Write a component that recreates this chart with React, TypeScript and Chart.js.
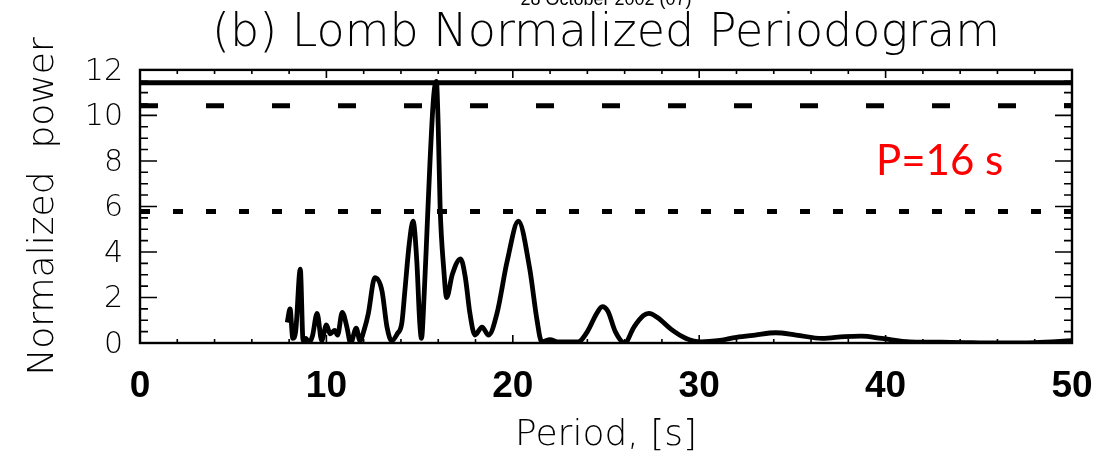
import React, { useEffect, useRef } from 'react';
import { Chart, registerables } from 'chart.js';

Chart.register(...registerables);

// ---- Data ----
const periods = [
  7.9, 8.05, 8.2, 8.35, 8.6, 8.75, 8.9, 9.05, 9.25, 9.5, 9.75, 10.0, 10.2, 10.45, 10.6, 10.85, 11.1, 11.3,
  11.6, 11.8, 12.05, 12.25, 12.6, 12.98, 13.25, 13.5, 13.8, 14.05, 14.2, 14.45, 14.65, 14.85, 15.0, 15.1,
  15.25, 15.4, 15.56, 15.75, 15.9, 16.0, 16.1, 16.3, 16.45, 16.75, 17.2, 17.45, 17.7, 17.97, 18.35, 18.7,
  19.15, 19.7, 20.3, 20.9, 21.3, 21.55, 22.0, 22.4, 23.5, 24.0, 24.5, 24.8, 25.1, 25.5, 26.0, 26.5, 27.0,
  27.3, 27.8, 28.5, 29.3, 30.1, 31.0, 32.0, 33.0, 34.1, 35.2, 36.6, 37.8, 38.7, 39.8, 41.3, 43.5, 46.0,
  48.0, 50.0,
];
const powers = [
  0.9, 1.5, 0.2, 0.5, 3.25, 0.1, 0.2, 0.0, 0.3, 1.3, 0.1, 0.8, 0.4, 0.55, 0.35, 1.35, 0.7, 0.0,
  0.65, 0.1, 0.65, 1.3, 2.87, 2.3, 0.7, 0.1, 0.4, 0.9, 2.2, 4.4, 5.35, 3.6, 1.0, 0.2,
  2.2, 5.0, 8.0, 10.8, 11.5, 9.5, 6.0, 3.2, 2.0, 3.0, 3.7, 2.9, 1.3, 0.35, 0.7, 0.35,
  1.3, 3.6, 5.35, 3.3, 1.0, 0.05, 0.15, 0.05, 0.05, 0.5, 1.3, 1.6, 1.4, 0.5, 0.0, 0.7, 1.2,
  1.3, 1.1, 0.6, 0.2, 0.05, 0.1, 0.25, 0.35, 0.45, 0.35, 0.2, 0.28, 0.3, 0.2, 0.05, 0.03, 0.0,
  0.02, 0.1,
];
const levelSolid = 11.43;
const levelDashed = 10.43;
const levelDotted = 5.78;

const xRange = [0, 50];
const yRange = [0, 12];
const xMajorStep = 10;
const xMinorStep = 2;
const yMajorStep = 2;
const yMinorStep = 0.5;

const dateText = '28 October 2002 (07)';
const titleText = '(b) Lomb Normalized Periodogram';
const xTitleText = 'Period, [s]';
const yTitleText = 'Normalized  power';
const noteText = 'P=16 s';
const notePeriod = 42.9;
const notePower = 7.4;

const thin = "'DejaVu Sans', sans-serif";

const isMultiple = (v: number, step: number) => Math.abs(v / step - Math.round(v / step)) < 1e-6;

const framePlugin = {
  id: 'idlFrame',
  afterDatasetsDraw(chart: any) {
    const { ctx, chartArea: a, scales } = chart;
    const x = scales.x;
    const y = scales.y;
    ctx.save();
    ctx.strokeStyle = '#000';
    ctx.lineWidth = 1.6;
    ctx.beginPath();
    for (let v = xRange[0]; v <= xRange[1] + 1e-9; v += xMinorStep) {
      const px = x.getPixelForValue(v);
      const len = isMultiple(v, xMajorStep) ? 8 : 4;
      ctx.moveTo(px, a.bottom);
      ctx.lineTo(px, a.bottom - len);
      ctx.moveTo(px, a.top);
      ctx.lineTo(px, a.top + len);
    }
    for (let v = yRange[0]; v <= yRange[1] + 1e-9; v += yMinorStep) {
      const py = y.getPixelForValue(v);
      const len = isMultiple(v, yMajorStep) ? 17 : 8;
      ctx.moveTo(a.left, py);
      ctx.lineTo(a.left + len, py);
      ctx.moveTo(a.right, py);
      ctx.lineTo(a.right - len, py);
    }
    ctx.stroke();
    ctx.lineWidth = 2.4;
    ctx.strokeRect(a.left, a.top, a.right - a.left, a.bottom - a.top);

    ctx.fillStyle = '#ff0000';
    ctx.font = "42px Lato, 'Open Sans', sans-serif";
    ctx.textAlign = 'center';
    ctx.textBaseline = 'alphabetic';
    ctx.fillText(noteText, x.getPixelForValue(notePeriod), y.getPixelForValue(notePower));
    ctx.restore();
  },
};

export default function App() {
  const canvasRef = useRef<HTMLCanvasElement | null>(null);

  useEffect(() => {
    const canvas = canvasRef.current;
    if (!canvas) return;
    const curve = periods.map((p, i) => ({ x: p, y: powers[i] }));
    const level = (v: number) => [
      { x: xRange[0], y: v },
      { x: xRange[1], y: v },
    ];
    const chart = new Chart(canvas, {
      type: 'line',
      data: {
        datasets: [
          {
            data: curve,
            borderColor: '#000',
            borderWidth: 4.8,
            pointRadius: 0,
            cubicInterpolationMode: 'monotone',
            borderJoinStyle: 'round',
          },
          { data: level(levelSolid), borderColor: '#000', borderWidth: 5, pointRadius: 0 },
          { data: level(levelDashed), borderColor: '#000', borderWidth: 5, pointRadius: 0, borderDash: [18, 48] },
          { data: level(levelDotted), borderColor: '#000', borderWidth: 5, pointRadius: 0, borderDash: [10, 23] },
        ],
      },
      options: {
        animation: false,
        responsive: false,
        maintainAspectRatio: false,
        layout: { padding: { left: 0, right: 47, top: 0, bottom: 0 } },
        plugins: {
          legend: { display: false },
          tooltip: { enabled: false },
          title: {
            display: true,
            fullSize: false,
            text: dateText,
            color: '#000',
            font: { family: "'Liberation Sans', sans-serif", size: 18, weight: 'normal' },
            padding: { top: -11, bottom: 0 },
          },
          subtitle: {
            display: true,
            fullSize: false,
            text: titleText,
            color: '#000',
            font: { family: thin, size: 46, weight: '200' },
            padding: { top: -4.4, bottom: 8.5 },
          },
        },
        scales: {
          x: {
            type: 'linear',
            min: xRange[0],
            max: xRange[1],
            grid: { display: false, drawTicks: false },
            border: { display: false },
            ticks: {
              stepSize: xMajorStep,
              color: '#000',
              padding: 22,
              maxRotation: 0,
              font: { family: "'Liberation Sans', sans-serif", size: 37, weight: 'bold' },
            },
            title: {
              display: true,
              text: xTitleText,
              color: '#000',
              font: { family: thin, size: 36, weight: '200' },
              padding: { top: 0, bottom: 1 },
            },
            afterFit: (scale: any) => {
              scale.height = 115;
            },
          },
          y: {
            type: 'linear',
            min: yRange[0],
            max: yRange[1],
            grid: { display: false, drawTicks: false },
            border: { display: false },
            ticks: {
              stepSize: yMajorStep,
              color: '#000',
              padding: 17,
              labelOffset: 2,
              font: { family: thin, size: 30, weight: '200' },
            },
            title: {
              display: true,
              text: yTitleText,
              color: '#000',
              font: { family: thin, size: 36, weight: '200' },
              padding: { top: 22, bottom: 0 },
            },
            afterFit: (scale: any) => {
              scale.width = 140;
            },
          },
        },
      },
      plugins: [framePlugin],
    } as any);
    return () => chart.destroy();
  }, []);

  return (
    <div style={{ position: 'fixed', left: 0, top: 0, width: 1119, height: 458, background: '#fff' }}>
      <canvas ref={canvasRef} width={1119} height={458} style={{ display: 'block' }} />
    </div>
  );
}
